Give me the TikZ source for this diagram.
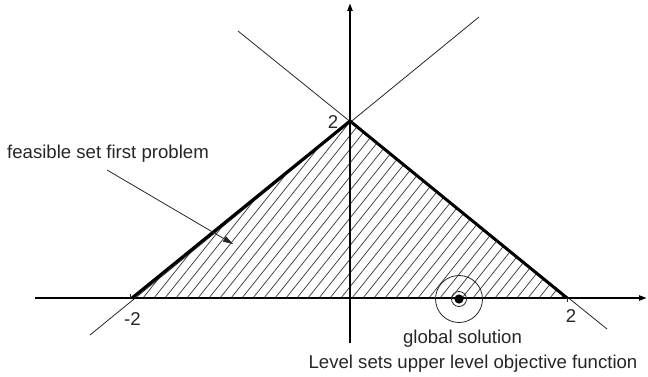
\documentclass[tikz,border=0pt]{standalone}
\usepackage{fontspec}
\setmainfont{Liberation Sans}
\usetikzlibrary{arrows.meta}
\begin{document}
\begin{tikzpicture}[x=1pt,y=-1pt,
  axis/.style={line width=2pt,-{Triangle[length=8pt,width=5pt]}},
  thin line/.style={line width=0.8pt,black!85},
  bound/.style={line width=3pt,line join=miter},
  hatch/.style={line width=0.7pt,black!80},
  lbl/.style={inner sep=0pt,font=\fontsize{18.6}{22}\selectfont,text=black!85},
  pointer/.style={line width=0.8pt,black!85,-{Triangle[length=10pt,width=6pt]}}]
\useasboundingbox (0,0) rectangle (648,377);
% key points
\coordinate (apex) at (350,121);
\coordinate (xm2) at (132,298);
\coordinate (xp2) at (567,298);
\coordinate (axL) at (35,298);
\coordinate (axR) at (647,298);
\coordinate (ayB) at (350,343);
\coordinate (ayT) at (350,3);
\coordinate (la1) at (238,31);
\coordinate (la2) at (607,329);
\coordinate (lb1) at (479,17);
\coordinate (lb2) at (90,335);
\coordinate (sol) at (459,299);
% hatching
\begin{scope}
  \clip (xm2) -- (apex) -- (xp2) -- cycle;
  \foreach \i in {-14,...,40} {
    \draw[hatch] ({132+11*\i},298) -- ({132+11*\i+141.6},121);
  }
\end{scope}
% thin lines
\draw[thin line] (la1) -- (la2);
\draw[thin line] (lb1) -- (lb2);
% axes
\draw[axis] (axL) -- (axR);
\draw[axis] (ayB) -- (ayT);
% ticks
\draw[thin line] (130,294) -- (130,298);
\draw[thin line] (567,298) -- (567,302);
% boundary
\draw[bound] (xm2) -- (apex) -- (xp2);
% solution
\draw[line width=0.8pt,black!85] (sol) circle[radius=23.5];
\draw[line width=0.8pt,black!85] (sol) circle[radius=7.5];
\fill (sol) circle[radius=4.6];
% labels
\node[lbl,anchor=center] (l2y) at (333,122) {2};
\node[lbl,anchor=center] (lm2) at (132.5,319) {-2};
\node[lbl,anchor=center] (lp2) at (571,316.5) {2};
\node[lbl,anchor=base west] (feas) at (7,159) {feasible set first problem};
\node[lbl,anchor=base] (glob) at (462.5,343) {global solution};
\node[lbl,anchor=base] (lev) at (473,368) {Level sets upper level objective function};
\coordinate (ptS) at (107,170);
\coordinate (ptE) at (233,244);
\draw[pointer] (ptS) -- (ptE);
\end{tikzpicture}
\end{document}
